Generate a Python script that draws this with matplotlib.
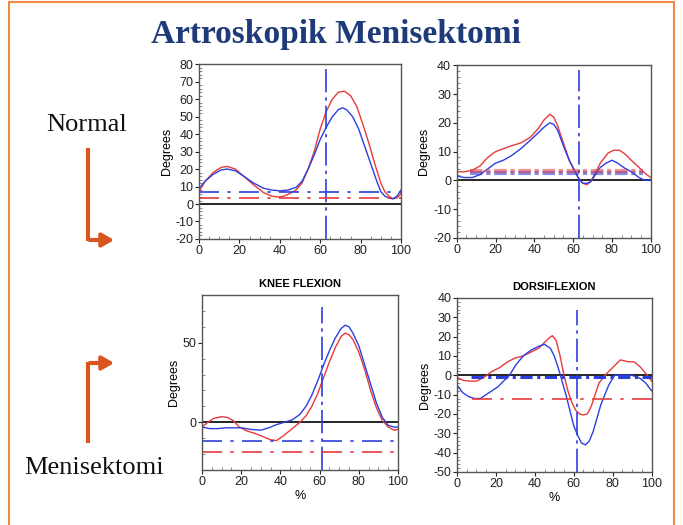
import matplotlib.pyplot as plt
from matplotlib.patches import Rectangle, FancyArrowPatch
from matplotlib.ticker import MultipleLocator
import numpy as np

RED = '#e83a3c'
BLUE = '#2b3fe0'
ORANGE = '#d9541e'

# ---- top left: knee flexion, normal ----
k1_red_x = [0, 3, 7, 11, 14, 18, 22, 27, 32, 36, 39, 42, 45, 48, 51, 54, 57, 60, 63, 66, 69, 72, 75, 78, 81, 84, 87, 90, 92, 94, 96, 98, 100]
k1_red_y = [7, 13, 18, 21, 21.5, 20, 16, 11, 6.5, 4.5, 4, 4.5, 6, 8, 12, 20, 30, 43, 53, 60, 64, 64.5, 62, 56, 46, 35, 23, 12, 7, 4.5, 3, 3.5, 6]
k1_blue_x = [0, 3, 7, 11, 14, 18, 22, 27, 32, 36, 40, 44, 48, 51, 54, 57, 60, 63, 66, 69, 71, 73, 76, 79, 82, 85, 88, 90, 92, 94, 96, 98, 100]
k1_blue_y = [9, 13, 17, 19.5, 20, 19, 16, 12, 9, 8, 7.5, 8, 9.5, 13, 20, 28, 37, 44, 50, 54, 55, 54, 50, 43, 33, 23, 13, 7, 4.5, 3.5, 3, 4.5, 8]
k1_ref = [7, 3.5]          # blue, red horizontal dash-dot levels
k1_toe = 63

# ---- top right: dorsiflexion, normal ----
d1_red_x = [0, 4, 8, 12, 16, 20, 24, 28, 33, 38, 42, 45, 48, 50, 52, 55, 58, 61, 63, 65, 67, 69, 71, 74, 78, 81, 84, 87, 90, 94, 97, 100]
d1_red_y = [3, 3, 3.5, 5, 8, 10, 11, 12, 13, 15, 18, 21, 23, 22, 19, 13, 7, 3, 0.5, -1, -1.5, -0.5, 2, 6, 9.5, 10.5, 10.5, 9, 7, 4.5, 2.5, 1]
d1_blue_x = [0, 4, 8, 12, 16, 20, 24, 28, 33, 38, 42, 45, 48, 50, 52, 55, 58, 61, 63, 65, 67, 69, 71, 74, 77, 80, 83, 86, 90, 94, 97, 100]
d1_blue_y = [1.5, 1, 1, 2, 4, 6, 7, 8.5, 11, 14, 16.5, 18.5, 20, 19.5, 17.5, 12, 7, 3, 0.5, -1, -1, -0.5, 1.5, 4.5, 6, 7, 6, 4.5, 3, 1, 0, 0]
d1_ref = [2.5, 3.2]
d1_toe = 63

# ---- bottom left: knee flexion, menisectomy ----
k2_red_x = [0, 3, 6, 10, 13, 16, 19, 23, 27, 31, 35, 38, 41, 44, 47, 50, 53, 56, 59, 62, 65, 68, 71, 73, 75, 77, 80, 83, 86, 89, 92, 95, 98, 100]
k2_red_y = [-3, 0, 2.5, 3.5, 3, 1, -3, -5.5, -7, -9, -11, -11.5, -9, -6, -3, 0, 4, 10, 18, 28, 38, 47, 54, 56, 55, 52, 44, 33, 20, 9, 1, -3, -5, -4.5]
k2_blue_x = [0, 4, 8, 12, 16, 20, 25, 30, 34, 38, 42, 46, 50, 53, 56, 59, 62, 65, 68, 71, 73, 75, 77, 80, 83, 86, 89, 92, 95, 98, 100]
k2_blue_y = [-3, -4, -4, -3.5, -3.5, -3.5, -4.5, -5, -3.5, -1.5, 0, 1.5, 5, 10, 17, 26, 36, 45, 53, 59, 61, 60, 56, 48, 36, 24, 12, 3, -2, -3, -3]
k2_ref = [-11.5, -18.5]
k2_toe = 61

# ---- bottom right: dorsiflexion, menisectomy ----
d2_red_x = [0, 3, 6, 10, 14, 18, 22, 26, 30, 34, 38, 42, 45, 47, 49, 51, 53, 55, 57, 59, 61, 63, 65, 67, 69, 71, 73, 76, 80, 84, 88, 91, 94, 97, 100]
d2_red_y = [-1, -2.5, -3, -3, -1, 2, 4, 7, 9, 10, 12, 14, 17, 19, 20.5, 18, 10, 0, -8, -14, -18, -20, -20.5, -20, -16, -10, -4, 0, 4, 8, 7, 7, 4.5, 1, -3]
d2_blue_x = [0, 3, 6, 9, 12, 15, 18, 21, 24, 27, 30, 34, 38, 42, 45, 48, 50, 52, 54, 56, 58, 60, 62, 64, 66, 68, 70, 72, 74, 76, 78, 81, 85, 90, 94, 97, 100]
d2_blue_y = [-5, -9, -11, -12, -12, -10, -8, -6, -3, 0, 5, 10, 13, 15, 16, 14, 10, 4, -3, -10, -18, -26, -31, -35, -36, -34, -29, -22, -15, -10, -5, 0, 0, 0, -1.5, -4, -8]
d2_ref = [-1, -12.5]
d2_toe = 61.5

THIN_DASH = (0, (12, 5, 2, 5))
THICK_DASH = (0, (3, 0.9, 1, 0.9))


def draw_panel(ax, rx, ry, bx, by, ref, toe, ylim, ymajor, yminor, vtop=0.97):
    ax.plot(rx, ry, color=RED, lw=1.0)
    ax.plot(bx, by, color=BLUE, lw=1.0)
    ax.axhline(0, color='black', lw=1.2, zorder=1)
    ax.axvline(toe, color=BLUE, lw=1.2, ls=(0, (14, 3, 2, 3)), ymax=vtop)
    ax.set_xlim(0, 100)
    ax.set_ylim(*ylim)
    ax.xaxis.set_major_locator(MultipleLocator(20))
    ax.xaxis.set_minor_locator(MultipleLocator(5))
    ax.yaxis.set_major_locator(MultipleLocator(ymajor))
    ax.yaxis.set_minor_locator(MultipleLocator(yminor))
    ax.tick_params(which='major', direction='out', length=3, width=0.8, labelsize=9, pad=1, colors='#222222')
    ax.tick_params(which='minor', direction='in', length=2, width=0.6, colors='#777777')
    for s in ax.spines.values():
        s.set_color('#555555')
        s.set_linewidth(1.0)
    ax.set_ylabel('Degrees', fontsize=9, labelpad=2)


plt.rcParams['font.family'] = ['Liberation Sans', 'DejaVu Sans']
plt.rcParams['axes.unicode_minus'] = False
fig = plt.figure(figsize=(6.83, 5.25), dpi=100)
fig.patch.set_facecolor('white')

ax1 = fig.add_axes([0.2914, 0.5448, 0.2958, 0.333])
draw_panel(ax1, k1_red_x, k1_red_y, k1_blue_x, k1_blue_y, k1_ref, k1_toe, (-20, 80), 10, 2)
ax1.plot([0, 100], [k1_ref[0]] * 2, color=BLUE, lw=1.2, ls=THIN_DASH)
ax1.plot([0, 100], [k1_ref[1]] * 2, color=RED, lw=1.2, ls=THIN_DASH)

ax2 = fig.add_axes([0.6687, 0.5467, 0.284, 0.329])
draw_panel(ax2, d1_red_x, d1_red_y, d1_blue_x, d1_blue_y, d1_ref, d1_toe, (-20, 40), 10, 2)
ax2.plot([7, 96], [d1_ref[0]] * 2, color=BLUE, lw=3, ls=THICK_DASH, alpha=0.6)
ax2.plot([7, 96], [d1_ref[1]] * 2, color=RED, lw=3, ls=THICK_DASH, alpha=0.55)

ax3 = fig.add_axes([0.2958, 0.1048, 0.287, 0.3333])
draw_panel(ax3, k2_red_x, k2_red_y, k2_blue_x, k2_blue_y, k2_ref, k2_toe, (-30, 80), 50, 10, vtop=0.93)
ax3.plot([0, 100], [k2_ref[0]] * 2, color=BLUE, lw=1.2, ls=THIN_DASH)
ax3.plot([0, 100], [k2_ref[1]] * 2, color=RED, lw=1.2, ls=THIN_DASH)
ax3.set_title('KNEE FLEXION', fontsize=8, fontweight='bold', pad=6)
ax3.set_xlabel('%', fontsize=9, labelpad=2)

ax4 = fig.add_axes([0.669, 0.101, 0.285, 0.3314])
draw_panel(ax4, d2_red_x, d2_red_y, d2_blue_x, d2_blue_y, d2_ref, d2_toe, (-50, 40), 10, 2, vtop=0.93)
ax4.plot([7, 100], [d2_ref[0]] * 2, color=BLUE, lw=2.2, ls=(0, (4, 1.5, 1, 1.5)))
ax4.plot([8, 100], [d2_ref[1]] * 2, color=RED, lw=1.2, ls=THIN_DASH)
ax4.set_title('DORSIFLEXION', fontsize=8, fontweight='bold', pad=6)
ax4.set_xlabel('%', fontsize=9, labelpad=2)

# slide decorations
fig.add_artist(Rectangle((9 / 683, -0.05), (674 - 9) / 683, 1 - 2 / 525 + 0.05,
                         transform=fig.transFigure, fill=False, edgecolor='#f08a4b', lw=1.5))
fig.text(336 / 683, 1 - 34 / 525, 'Artroskopik Menisektomi', ha='center', va='center',
         fontsize=24, fontweight='bold', color='#1f3a78', family='Liberation Serif')
fig.text(87 / 683, 1 - 125 / 525, 'Normal', ha='center', va='center',
         fontsize=19, color='#111111', family='Liberation Serif')
fig.text(94 / 683, 1 - 468 / 525, 'Menisektomi', ha='center', va='center',
         fontsize=19, color='#111111', family='Liberation Serif')


def fy(p):
    return 1 - p / 525


fig.add_artist(plt.Line2D([88 / 683, 88 / 683], [fy(148), fy(241)], color=ORANGE, lw=3,
                          transform=fig.transFigure, solid_capstyle='butt'))
fig.add_artist(FancyArrowPatch((87 / 683, fy(240)), (117 / 683, fy(240)), transform=fig.transFigure,
                               arrowstyle='-|>,head_length=7,head_width=4', color=ORANGE, lw=3))
fig.add_artist(plt.Line2D([88 / 683, 88 / 683], [fy(443), fy(362)], color=ORANGE, lw=3,
                          transform=fig.transFigure, solid_capstyle='butt'))
fig.add_artist(FancyArrowPatch((87 / 683, fy(363)), (117 / 683, fy(363)), transform=fig.transFigure,
                               arrowstyle='-|>,head_length=7,head_width=4', color=ORANGE, lw=3))

fig.savefig('out.png', dpi=100)
